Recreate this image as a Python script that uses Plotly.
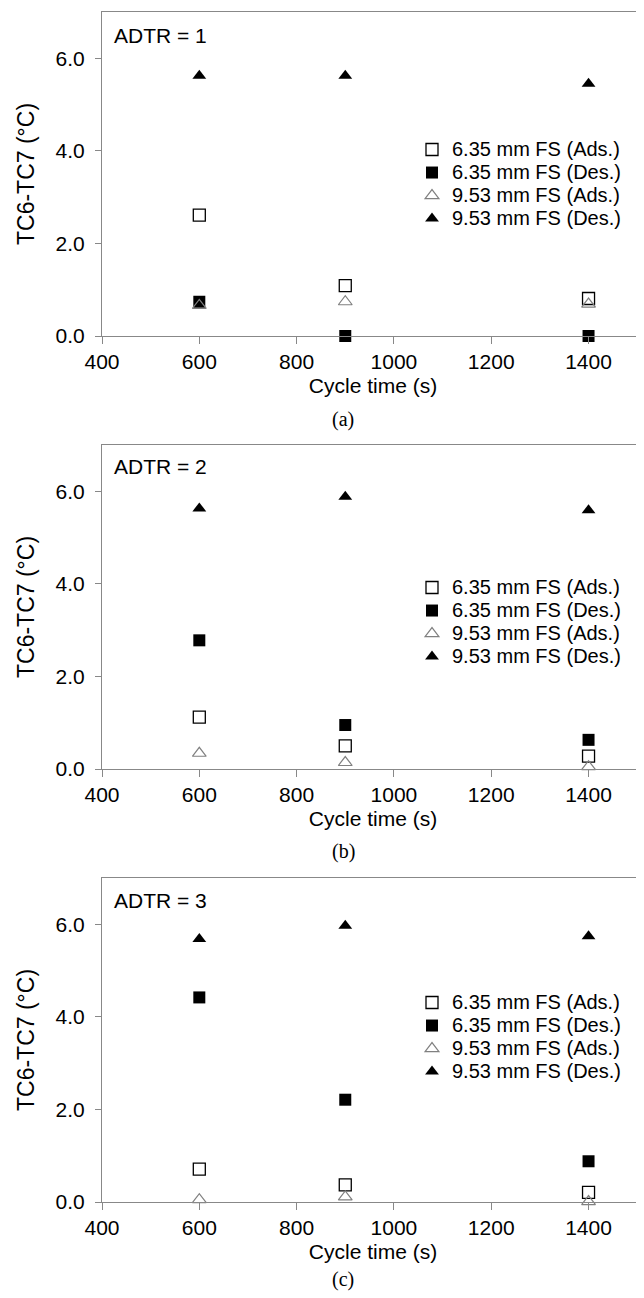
import plotly.graph_objects as go

# ---------------- data ----------------
cycle_time = [600, 900, 1400]
x_ticks = [400, 600, 800, 1000, 1200, 1400]
y_ticks = [0, 2, 4, 6]
series_names = ["6.35 mm FS (Ads.)", "6.35 mm FS (Des.)",
                "9.53 mm FS (Ads.)", "9.53 mm FS (Des.)"]
panel_titles = ["ADTR = 1", "ADTR = 2", "ADTR = 3"]
panel_labels = ["(a)", "(b)", "(c)"]

a_635_ads = [2.61, 1.09, 0.81]
a_635_des = [0.74, 0.00, 0.00]
a_953_ads = [0.66, 0.74, 0.69]
a_953_des = [5.62, 5.62, 5.45]

b_635_ads = [1.12, 0.50, 0.28]
b_635_des = [2.78, 0.95, 0.63]
b_953_ads = [0.34, 0.14, 0.05]
b_953_des = [5.63, 5.88, 5.59]

c_635_ads = [0.71, 0.37, 0.21]
c_635_des = [4.42, 2.21, 0.88]
c_953_ads = [0.05, 0.11, 0.01]
c_953_des = [5.68, 5.97, 5.74]

panels = [
    [a_635_ads, a_635_des, a_953_ads, a_953_des],
    [b_635_ads, b_635_des, b_953_ads, b_953_des],
    [c_635_ads, c_635_des, c_953_ads, c_953_des],
]

# ---------------- geometry (page pixels; the page body has an 8px margin) ----------------
OFF = 8
W, H = 644 - OFF, 1298 - OFF
M_L, M_R, M_T = 102 - OFF, 0, 12 - OFF
PLOT_BOTTOM = 1202 - OFF
M_B = H - PLOT_BOTTOM
PH = H - M_T - M_B
PW = W - M_L - M_R

def fy(page_px):  # page pixel row -> paper y
    return (PLOT_BOTTOM - (page_px - OFF)) / PH

def fx(page_px):  # page pixel column -> paper x
    return (page_px - OFF - M_L) / PW

panel_px = [(12, 336), (445, 769), (878, 1202)]
legend_top_px = [133, 571, 986]
legend_left_px = 412
label_px = [419, 852, 1279]
adtr_px = [35, 467, 900]

styles = [
    dict(symbol="square-open", size=12, color="black", line=dict(width=1.3, color="black")),
    dict(symbol="square", size=12, color="black", line=dict(width=0)),
    dict(symbol="triangle-up-open", size=12, color="#808080", line=dict(width=1.2, color="#808080")),
    dict(symbol="triangle-up", size=12, color="black", line=dict(width=0)),
]

AX = "#888888"
FONT = "Arial, 'Liberation Sans', sans-serif"

fig = go.Figure()
layout = dict(
    width=W, height=H,
    margin=dict(l=M_L, r=M_R, t=M_T, b=M_B, autoexpand=False),
    paper_bgcolor="white", plot_bgcolor="white",
    font=dict(family=FONT, color="black", size=21),
    annotations=[],
)

for i, vals in enumerate(panels):
    sfx = "" if i == 0 else str(i + 1)
    xa, ya, lg = "x" + sfx, "y" + sfx, "legend" + sfx
    for j, v in enumerate(vals):
        fig.add_trace(go.Scatter(
            x=cycle_time, y=v, mode="markers",
            name="<span style='font-size:20px'>%s</span>" % series_names[j],
            marker=styles[j], cliponaxis=False,
            xaxis=xa, yaxis=ya, legend=lg, showlegend=True,
        ))
    top, bot = panel_px[i]
    layout["xaxis" + sfx] = dict(
        domain=[0, 1], anchor=ya, range=[400, 1514],
        tickvals=x_ticks, ticks="outside", ticklen=7, tickcolor=AX, tickwidth=1,
        showline=True, linecolor=AX, linewidth=1, mirror=True,
        showgrid=False, zeroline=False,
        tickfont=dict(size=21, color="black"),
        title=dict(text="Cycle time (s)", font=dict(size=21), standoff=6),
    )
    layout["yaxis" + sfx] = dict(
        domain=[fy(bot), fy(top)], anchor=xa, range=[0, 7],
        tickvals=y_ticks, tickformat=".1f", ticks="outside", ticklen=6,
        tickcolor=AX, tickwidth=1,
        showline=True, linecolor=AX, linewidth=1,
        showgrid=False, zeroline=False,
        tickfont=dict(size=21, color="black"), ticklabelstandoff=6,
        title=dict(text="TC6-TC7 (°C)", font=dict(size=23), standoff=14),
    )
    layout[lg] = dict(
        x=fx(legend_left_px), xanchor="left", y=fy(legend_top_px[i]), yanchor="top",
        xref="paper", yref="paper",
        bgcolor="rgba(0,0,0,0)", borderwidth=0,
        font=dict(size=15.4, family=FONT, color="black"),
        tracegroupgap=0,
    )
    layout["annotations"].append(dict(
        text=panel_titles[i], xref="paper", yref="paper",
        x=fx(112), y=fy(adtr_px[i]),
        xanchor="left", yanchor="middle", showarrow=False,
        font=dict(size=21, family=FONT, color="black"),
    ))
    layout["annotations"].append(dict(
        text=panel_labels[i], xref="paper", yref="paper",
        x=fx(343), y=fy(label_px[i]),
        xanchor="center", yanchor="middle", showarrow=False,
        font=dict(size=20, family="'Times New Roman', 'Liberation Serif', serif", color="black"),
    ))

fig.update_layout(**layout)
fig.write_html("out.html")
